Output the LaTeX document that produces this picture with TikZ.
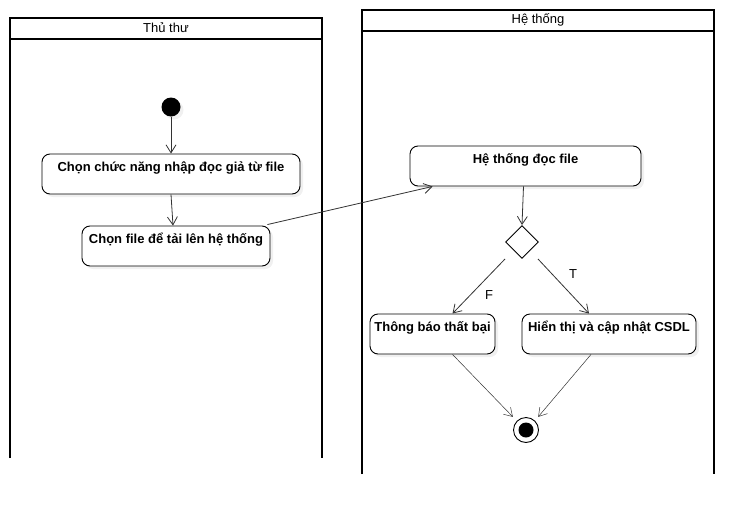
\documentclass[tikz,border=0pt]{standalone}
\usepackage{fontspec}
\setmainfont{Liberation Sans}
\usetikzlibrary{arrows.meta,shapes.geometric,shadows}
\tikzset{
  action/.style={draw, rounded corners=8pt, line width=0.9pt, fill=white,
    drop shadow={shadow xshift=3pt, shadow yshift=-3pt, opacity=0.12},
    minimum height=40pt, inner ysep=4pt, text height=13pt, text depth=19pt,
    font=\fontsize{13}{15}\selectfont\bfseries},
  flow/.style={draw=black!80, line width=0.8pt, -{Straight Barb[length=8pt,width=10pt]}},
  lane/.style={line width=1.8pt},
  lanetitle/.style={font=\fontsize{13}{15}\selectfont},
  guard/.style={font=\fontsize{13}{15}\selectfont}
}
\begin{document}
\begin{tikzpicture}[x=1pt,y=-1pt]
	\useasboundingbox (0,0) rectangle (754,514);
	% lanes
	\draw[lane] (10,458) -- (10,18) -- (322,18) -- (322,458);
	\draw[lane] (10,39) -- (322,39);
	\node[lanetitle] (thuthu) at (166,28) {Thủ thư};
	\draw[lane] (362,474) -- (362,10) -- (714,10) -- (714,474);
	\draw[lane] (362,31) -- (714,31);
	\node[lanetitle] (hethong) at (538,20) {Hệ thống};
	%
	\node[circle, fill=black, minimum size=19pt, inner sep=0pt,
	  drop shadow={shadow xshift=3pt, shadow yshift=-3pt, opacity=0.12}] (start) at (171,107) {};
	\node[action, minimum width=258pt] (chon) at (171,174) {Chọn chức năng nhập đọc giả từ file};
	\node[action, minimum width=188pt] (file) at (176,246) {Chọn file để tải lên hệ thống};
	\node[action, minimum width=231pt] (doc) at (525.5,166) {Hệ thống đọc file};
	\node[diamond, draw, line width=0.9pt, fill=white, minimum size=33pt, inner sep=0pt] (kt) at (522,242) {};
	\node[action, minimum width=125pt] (loi) at (432.5,334) {Thông báo thất bại};
	\node[action, minimum width=174pt] (capnhat) at (609,334) {Hiển thị và cập nhật CSDL};
	\node[circle, draw, line width=0.9pt, fill=white, minimum size=25pt, inner sep=0pt] (end) at (526,430) {};
	\fill (end) circle [radius=7.5];
	%
	\draw[flow] (start) -- (chon.north);
	\draw[flow] (chon.south) -- ([xshift=2pt]chon.south |- file.north);
	\draw[flow] ([xshift=-3pt,yshift=1pt]file.north east) -- ([xshift=23pt]doc.south west);
	\draw[flow] ([xshift=-2pt]doc.south) -- (kt.north);
	\draw[flow] ([shift={(-17,17)}]kt.center) -- ([xshift=20pt]loi.north);
	\draw[flow] ([shift={(16,17)}]kt.center) -- ([xshift=-20pt]capnhat.north);
	\draw[flow, line width=0.5pt] ([xshift=20pt]loi.south) -- ([shift={(-4,-4)}]end.135);
	\draw[flow, line width=0.5pt] ([xshift=-18pt]capnhat.south) -- ([shift={(3,-4)}]end.45);
	%
	\node[guard] (f) at (489,295) {F};
	\node[guard] (t) at (573,274) {T};
\end{tikzpicture}
\end{document}
